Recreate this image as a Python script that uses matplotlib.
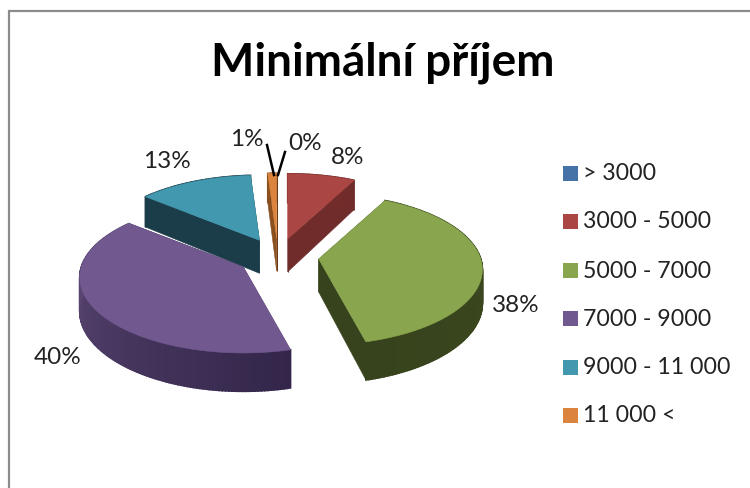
# Minimalni prijem - exploded 3D pie drawn by hand on a pixel sized axes
import numpy as np
import matplotlib
matplotlib.use("Agg")
import matplotlib.pyplot as plt

title = "Minimální příjem"
categories = ["> 3000", "3000 - 5000", "5000 - 7000", "7000 - 9000", "9000 - 11 000", "11 000 <"]
values = [0.0, 7.6, 38.3, 40.1, 12.9, 1.0]
labels = ["0%", "8%", "38%", "40%", "13%", "1%"]

colors = ["#4572a7", "#aa4643", "#89a54e", "#71588f", "#4198af", "#db843d"]
wall_start = ["#2b4668", "#7a2f2d", "#3c4a20", "#65507f", "#1b3c49", "#8a5020"]
wall_end = ["#2b4668", "#702c2a", "#37431c", "#33264a", "#1b3c49", "#6a3a14"]

# geometry in pixels
cx, cy = 278, 257
rx, ry = 162, 74
persp = 0.139
explode = 41
depth = 33
draw_order = [4, 5, 0, 1, 3, 2]

label_pos = [(288, 144), (331, 157), (492, 306), (34, 358), (143, 162), (230, 139)]
leaders = {0: [(285, 152), (278, 175)], 5: [(267, 145), (274, 175)]}
legend_y = [173, 221, 270, 318, 367, 415]

font = "Lato"

fig = plt.figure(figsize=(7.5, 4.88), dpi=100)
ax = fig.add_axes([0, 0, 1, 1])
ax.set_xlim(0, 750)
ax.set_ylim(488, 0)
ax.axis("off")

# chart frame, cut off by the screenshot on the right and at the bottom
ax.plot([8.5, 8.5, 750], [488, 10.5, 10.5], color="#8c8c8c", lw=1.6, solid_joinstyle="miter")


def project(theta):
    # theta in radians, clockwise from 12 o'clock, far side is smaller
    s = 1 / (1 + persp * np.cos(theta))
    return rx * np.sin(theta) * s, -ry * np.cos(theta) * s, s


fractions = np.array(values) / sum(values)
edges = np.concatenate([[0], np.cumsum(fractions)]) * 2 * np.pi

for i in draw_order:
    if values[i] == 0:
        continue
    a0, a1 = edges[i], edges[i + 1]
    mid = (a0 + a1) / 2
    ox = cx + explode * np.sin(mid)
    oy = cy - explode * ry / rx * np.cos(mid)

    th = np.linspace(a0, a1, max(int(np.degrees(a1 - a0)), 2) + 1)
    px, py, ps = project(th)
    px, py = ox + px, oy + py
    drop = depth * ps

    # the two cut faces
    for j in [0, -1]:
        ax.fill([ox, px[j], px[j], ox], [oy, py[j], py[j] + drop[j], oy + depth],
                color=wall_start[i] if j == 0 else wall_end[i], lw=0.4)

    # outer wall, shaded in small strips
    c0 = np.array(matplotlib.colors.to_rgb(wall_start[i]))
    c1 = np.array(matplotlib.colors.to_rgb(wall_end[i]))
    for k in range(len(th) - 1):
        t = k / max(len(th) - 2, 1)
        if i == 3:
            t = 1 - t
        col = c0 + (c1 - c0) * t
        ax.fill([px[k], px[k + 1], px[k + 1], px[k]],
                [py[k], py[k + 1], py[k + 1] + drop[k + 1], py[k] + drop[k]],
                color=col, lw=1.2)

    ax.fill(np.concatenate([[ox], px]), np.concatenate([[oy], py]), color=colors[i], lw=0.4)

for i in range(len(labels)):
    ax.text(label_pos[i][0], label_pos[i][1], labels[i], fontsize=17.5, family=font,
            color="#222222", ha="left", va="center")

for i in leaders:
    p = leaders[i]
    ax.plot([p[0][0], p[1][0]], [p[0][1], p[1][1]], color="black", lw=1.8)

ax.text(383, 63, title, fontsize=33, fontweight="bold", family=font, color="black",
        ha="center", va="center")

for i in range(len(categories)):
    ax.fill([563, 578, 578, 563], [legend_y[i] - 7.5, legend_y[i] - 7.5, legend_y[i] + 7.5, legend_y[i] + 7.5],
            color=colors[i], lw=0)
    ax.text(583, legend_y[i] + 1, categories[i], fontsize=16.7, family=font, color="#222222",
            ha="left", va="center")

fig.savefig("out.png", dpi=100)
